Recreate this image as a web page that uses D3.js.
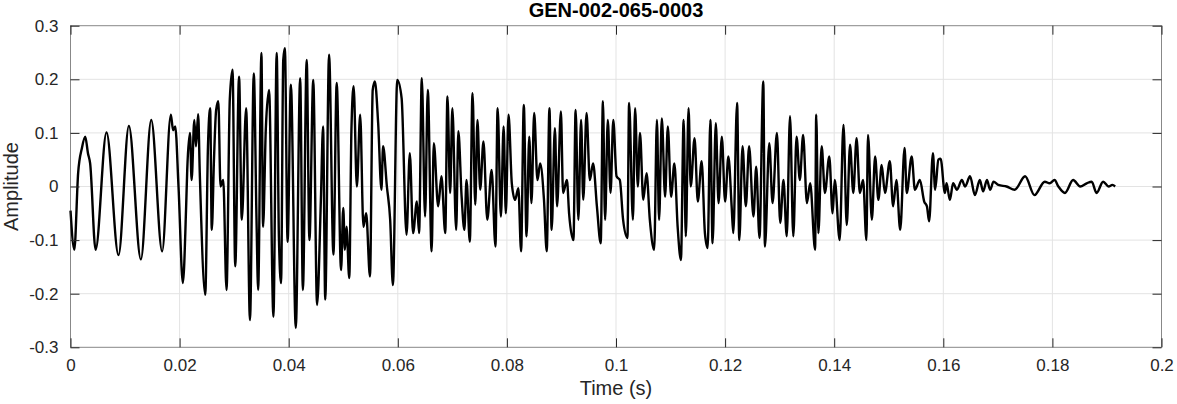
<!DOCTYPE html>
<html><head><meta charset="utf-8">
<script src="https://cdn.jsdelivr.net/npm/d3@7"></script>
<style>body{margin:0;background:#fff}svg{display:block}</style></head>
<body><svg id="c" width="1177" height="404"></svg>
<script>
const chartTitle = "GEN-002-065-0003";
const xLabel = "Time (s)";
const yLabel = "Amplitude";
const xTicks = [0,0.02,0.04,0.06,0.08,0.1,0.12,0.14,0.16,0.18,0.2];
const yTicks = [-0.3,-0.2,-0.1,0,0.1,0.2,0.3];
const time = [0,0.0007,0.0014,0.0021,0.0027,0.0032,0.0036,0.0046,0.0066,0.0088,0.0107,0.0129,0.0148,0.0168,0.0184,0.0188,0.0192,0.0198,0.0206,0.0212,0.0214,0.0219,0.0222,0.0227,0.0230,0.0234,0.0237,0.0247,0.0252,0.0256,0.0259,0.0263,0.0267,0.0271,0.0275,0.0280,0.0286,0.0292,0.0297,0.0302,0.0309,0.0314,0.0322,0.0329,0.0336,0.0341,0.0344,0.0350,0.0353,0.0358,0.0364,0.0372,0.0378,0.0382,0.0386,0.0390,0.0393,0.0398,0.0404,0.0413,0.0421,0.0426,0.0433,0.0438,0.0445,0.0452,0.0459,0.0463,0.0467,0.0474,0.0482,0.0488,0.0496,0.0500,0.0503,0.0506,0.0511,0.0515,0.0519,0.0525,0.0531,0.0537,0.0542,0.0549,0.0554,0.0558,0.0564,0.0570,0.0573,0.0580,0.0586,0.0591,0.0599,0.0607,0.0616,0.0622,0.0628,0.0635,0.0639,0.0644,0.0650,0.0655,0.0662,0.0666,0.0674,0.0680,0.0687,0.0691,0.0696,0.0700,0.0707,0.0711,0.0717,0.0722,0.0726,0.0732,0.0737,0.0742,0.0746,0.0751,0.0757,0.0764,0.0772,0.0779,0.0783,0.0789,0.0794,0.0798,0.0803,0.0809,0.0815,0.0821,0.0826,0.0831,0.0836,0.0841,0.0845,0.0850,0.0856,0.0861,0.0868,0.0873,0.0878,0.0882,0.0888,0.0892,0.0899,0.0903,0.0910,0.0914,0.0922,0.0926,0.0931,0.0936,0.0940,0.0946,0.0952,0.0958,0.0965,0.0972,0.0976,0.0980,0.0985,0.0990,0.0995,0.1001,0.1007,0.1013,0.1021,0.1024,0.1031,0.1035,0.1040,0.1044,0.1050,0.1056,0.1062,0.1070,0.1075,0.1079,0.1084,0.1090,0.1095,0.1101,0.1107,0.1113,0.1119,0.1124,0.1128,0.1133,0.1137,0.1144,0.1150,0.1157,0.1163,0.1168,0.1173,0.1177,0.1183,0.1188,0.1194,0.1200,0.1206,0.1212,0.1215,0.1222,0.1226,0.1232,0.1238,0.1244,0.1252,0.1257,0.1263,0.1270,0.1273,0.1281,0.1287,0.1295,0.1301,0.1307,0.1313,0.1319,0.1325,0.1331,0.1337,0.1343,0.1350,0.1356,0.1365,0.1367,0.1371,0.1377,0.1383,0.1391,0.1397,0.1401,0.1410,0.1417,0.1423,0.1429,0.1435,0.1441,0.1447,0.1453,0.1459,0.1462,0.1469,0.1475,0.1481,0.1487,0.1493,0.1502,0.1508,0.1514,0.1521,0.1529,0.1533,0.1542,0.1548,0.1557,0.1565,0.1570,0.1574,0.1581,0.1585,0.1591,0.1595,0.1603,0.1606,0.1612,0.1618,0.1625,0.1634,0.1640,0.1649,0.1658,0.1667,0.1673,0.1680,0.1686,0.1692,0.1701,0.1716,0.1731,0.1750,0.1767,0.1786,0.1795,0.1804,0.1811,0.1823,0.1838,0.1851,0.1863,0.1872,0.1881,0.1893,0.1903,0.1910,0.1915];
const amplitude = [-0.045,-0.118,0.025,0.072,0.093,0.062,0.043,-0.118,0.101,-0.128,0.113,-0.136,0.124,-0.121,0.134,0.105,0.112,0,-0.180,-0.037,0.031,0.100,0.012,0.124,0.075,0.135,0.025,-0.202,0.075,0.146,-0.081,0.050,0.143,0.159,0,0.012,-0.193,0.162,0.218,-0.149,0.205,-0.062,0.146,-0.249,0.211,-0.062,-0.193,0.249,-0.075,0.106,0.180,-0.243,0.249,-0.093,-0.180,0.236,0.258,-0.103,0.190,-0.264,0.202,-0.193,0.236,-0.100,0.199,-0.221,-0.025,0.112,-0.211,0.246,-0.127,0.193,-0.156,-0.040,-0.118,-0.075,-0.171,0.106,0.187,0,0.134,-0.075,-0.050,-0.168,0.180,0.196,0.118,-0.006,0.075,0,-0.062,-0.184,0.199,0.165,-0.090,0.062,-0.087,-0.028,-0.087,0.202,-0.056,0.180,-0.121,0.081,-0.037,0.019,-0.087,0.168,-0.012,0.146,-0.081,0.103,-0.019,-0.081,0.012,-0.103,0.174,-0.034,0.124,-0.006,0.084,-0.062,0.031,-0.112,0.146,-0.056,0.112,-0.050,0.134,0.006,-0.025,-0.003,-0.121,0.152,-0.093,0.093,-0.031,0.137,0.012,0.043,-0.025,-0.121,0.146,-0.081,0.109,-0.037,0.140,-0.012,0.012,-0.050,-0.100,0.143,-0.062,0.124,-0.025,0.137,0.012,0.043,-0.037,-0.106,0.159,-0.062,0.124,-0.012,0.124,0.019,0.012,-0.062,-0.096,0.156,-0.062,0.146,0,0.100,-0.025,0.025,-0.062,-0.118,0.124,-0.062,0.127,-0.019,0.112,-0.019,0.043,-0.075,-0.137,0.124,-0.093,0.146,0,0.090,-0.028,0.047,-0.087,-0.115,0.124,-0.106,0.118,-0.031,0.093,-0.028,0.056,-0.037,-0.087,0.156,-0.100,0.075,-0.037,0.075,-0.056,0.037,-0.096,0.196,-0.112,0.081,-0.031,0.100,-0.068,0.012,-0.093,0.131,-0.093,0.093,0.012,0.096,-0.031,0.006,-0.118,0.134,-0.087,0.075,-0.012,0.056,-0.050,0.012,-0.100,0.115,-0.072,0.078,-0.012,0.090,-0.012,0.012,-0.100,0.096,-0.062,0.056,-0.025,0.040,-0.012,0.047,-0.037,0.012,-0.081,0.072,-0.012,0.056,-0.006,0.012,-0.028,-0.037,-0.065,0.062,-0.006,0.050,0.052,-0.012,0.006,-0.025,0.006,-0.006,0.012,0,0.019,-0.016,0.012,-0.009,0.012,-0.006,0.009,0.003,0,-0.006,0.019,-0.016,0.009,0.006,0.012,0,-0.012,0.012,0,0.006,0.009,-0.012,0.009,0,0.003,0];

const W = 1177, H = 404;
const m = {left: 70.5, right: 15.5, top: 25.7, bottom: 56.7};
const iw = W - m.left - m.right, ih = H - m.top - m.bottom;
const svg = d3.select("#c");
const g = svg.append("g").attr("transform", `translate(${m.left},${m.top})`);
const x = d3.scaleLinear().domain([0, 0.2]).range([0, iw]);
const y = d3.scaleLinear().domain([-0.3, 0.3]).range([ih, 0]);
const fmt = v => String(+v.toFixed(2));
const font = "'Liberation Sans', Arial, Helvetica, sans-serif";

// grid
g.append("g").selectAll("line").data(xTicks.slice(1, -1)).join("line")
  .attr("x1", d => x(d)).attr("x2", d => x(d)).attr("y1", 0).attr("y2", ih)
  .attr("stroke", "#e3e3e3").attr("stroke-width", 1);
g.append("g").selectAll("line").data(yTicks.slice(1, -1)).join("line")
  .attr("y1", d => y(d)).attr("y2", d => y(d)).attr("x1", 0).attr("x2", iw)
  .attr("stroke", "#e3e3e3").attr("stroke-width", 1);

// waveform
const pts = time.map((t, i) => [t, amplitude[i]]);
g.append("path").datum(pts)
  .attr("fill", "none").attr("stroke", "#000").attr("stroke-width", 2.4)
  .attr("stroke-linejoin", "round")
  .attr("d", d3.line().x(d => x(d[0])).y(d => y(d[1])).curve(d3.curveMonotoneX));

// axes (ticks inward)
const axStyle = sel => {
  sel.select(".domain").remove();
  sel.selectAll(".tick line").attr("stroke", "#262626");
  sel.selectAll(".tick text").attr("fill", "#262626").style("font-family", font).style("font-size", "17px");
};
g.append("g").attr("transform", `translate(0,${ih})`)
  .call(d3.axisBottom(x).tickValues(xTicks).tickFormat(fmt).tickSizeInner(-9).tickSizeOuter(0).tickPadding(12))
  .call(axStyle);
g.append("g")
  .call(d3.axisTop(x).tickValues(xTicks).tickFormat("").tickSizeInner(-9).tickSizeOuter(0))
  .call(axStyle);
g.append("g")
  .call(d3.axisLeft(y).tickValues(yTicks).tickFormat(fmt).tickSizeInner(-9).tickSizeOuter(0).tickPadding(12))
  .call(axStyle);
g.append("g").attr("transform", `translate(${iw},0)`)
  .call(d3.axisRight(y).tickValues(yTicks).tickFormat("").tickSizeInner(-9).tickSizeOuter(0))
  .call(axStyle);

// box
g.append("rect").attr("x", 0).attr("y", 0).attr("width", iw).attr("height", ih)
  .attr("fill", "none").attr("stroke", "#262626").attr("stroke-width", 1).attr("opacity", 0.55);

// labels
svg.append("text").attr("x", m.left + iw / 2).attr("y", 17)
  .attr("text-anchor", "middle").style("font-family", font).style("font-size", "20px")
  .style("font-weight", "bold").attr("fill", "#000").text(chartTitle);
svg.append("text").attr("x", m.left + iw / 2).attr("y", 395)
  .attr("text-anchor", "middle").style("font-family", font).style("font-size", "20px")
  .attr("fill", "#262626").text(xLabel);
svg.append("text").attr("transform", `translate(18,${m.top + ih / 2}) rotate(-90)`)
  .attr("text-anchor", "middle").style("font-family", font).style("font-size", "20px")
  .attr("fill", "#262626").text(yLabel);
</script>
</body></html>
